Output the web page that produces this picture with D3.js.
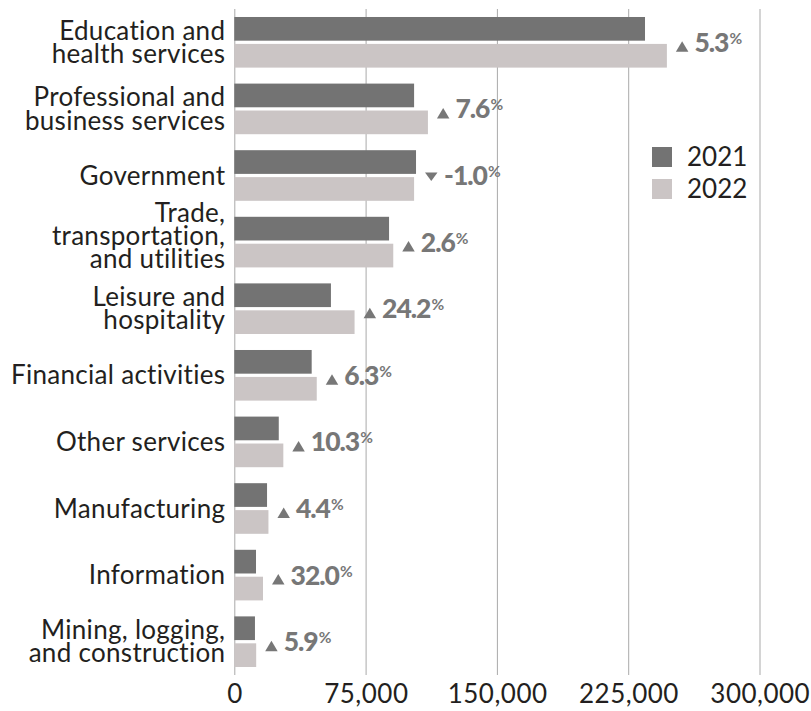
<!DOCTYPE html>
<html>
<head>
<meta charset="utf-8">
<script src="https://cdn.jsdelivr.net/npm/d3@7"></script>
<style>
  html, body { margin: 0; padding: 0; background: #fff; }
  svg { display: block; font-family: Lato, "Open Sans", sans-serif; }
</style>
</head>
<body>
<svg id="chart" width="811" height="711"></svg>
<script>
// ---- data ----
const categories = [
  "Education and\nhealth services",
  "Professional and\nbusiness services",
  "Government",
  "Trade,\ntransportation,\nand utilities",
  "Leisure and\nhospitality",
  "Financial activities",
  "Other services",
  "Manufacturing",
  "Information",
  "Mining, logging,\nand construction"
];
const seriesNames = ["2021", "2022"];
const values2021 = [234600, 102700, 103800, 88400, 55200, 44200, 25400, 18700, 12400, 11800];
const values2022 = [247100, 110600, 102700, 90800, 68700, 47100, 28000, 19500, 16400, 12500];
const pctChange = [5.3, 7.6, -1.0, 2.6, 24.2, 6.3, 10.3, 4.4, 32.0, 5.9];
const xTicks = [0, 75000, 150000, 225000, 300000];

// ---- layout ----
const colors = { "2021": "#737373", "2022": "#cbc5c5" };
const textColor = "#231f20";
const annColor = "#777777";
const plotTop = 9, plotBottom = 675;

const svg = d3.select("#chart");

const x = d3.scaleLinear().domain([0, 300000]).range([234.3, 759.5]);
const y0 = d3.scaleBand().domain(categories).range([plotTop, plotBottom])
  .paddingInner(0.24).paddingOuter(0.12);
const y1 = d3.scaleBand().domain(seriesNames).range([0, y0.bandwidth()]).paddingInner(0.12);

// grid + axis
const axis = d3.axisBottom(x).tickValues(xTicks).tickFormat(d3.format(","))
  .tickSize(-(plotBottom - plotTop)).tickPadding(10);
const gAxis = svg.append("g").attr("transform", `translate(0,${plotBottom})`).call(axis);
gAxis.select(".domain").remove();
gAxis.selectAll(".tick line").attr("stroke", "#a9a9a9").attr("stroke-width", 1);
gAxis.selectAll(".tick text").attr("fill", textColor).attr("font-size", 26)
  .attr("letter-spacing", 0.5).attr("dx", 0.25)
  .attr("font-family", "Lato, sans-serif");

// bars
const rows = categories.map((c, i) => ({ cat: c, v: { "2021": values2021[i], "2022": values2022[i] }, pct: pctChange[i] }));
const groups = svg.append("g").selectAll("g").data(rows).join("g")
  .attr("transform", d => `translate(0,${y0(d.cat)})`);
groups.selectAll("rect").data(d => seriesNames.map(s => ({ s, v: d.v[s] }))).join("rect")
  .attr("x", x(0))
  .attr("y", d => y1(d.s))
  .attr("width", d => x(d.v) - x(0))
  .attr("height", y1.bandwidth())
  .attr("fill", d => colors[d.s]);

// category labels
const lineH = 23.3;
svg.append("g").selectAll("text").data(rows).join("text")
  .attr("text-anchor", "end")
  .attr("font-size", 26)
  .attr("letter-spacing", 0.3)
  .attr("fill", textColor)
  .each(function(d) {
    const lines = d.cat.split("\n");
    const n = lines.length;
    const cy = y0(d.cat) + y0.bandwidth() / 2;
    const first = cy + 9 - (n - 1) * lineH / 2 - (n > 2 ? 6 : 0);
    const t = d3.select(this);
    lines.forEach((ln, k) => {
      t.append("tspan").attr("x", 225.3).attr("y", first + k * lineH).text(ln);
    });
  });

// change annotations
const ann = svg.append("g").selectAll("g").data(rows).join("g")
  .attr("transform", d => {
    const cy = y0(d.cat) + y0.bandwidth() / 2;
    const xe = x(Math.max(d.v["2021"], d.v["2022"])) + 9;
    return `translate(${xe},${cy + 9.5})`;
  });
ann.append("path")
  .attr("d", d => d.pct >= 0 ? "M0,0 L12.5,0 L6.25,-10.5 Z" : "M0,-12.5 L12.5,-12.5 L6.25,-4 Z")
  .attr("fill", annColor);
const at = ann.append("text")
  .attr("x", d => d.pct >= 0 ? 18.5 : 19)
  .attr("y", 0)
  .attr("fill", annColor)
  .attr("font-weight", 900)
  .attr("font-size", 26.5)
  .attr("letter-spacing", -1);
at.append("tspan").text(d => d.pct.toFixed(1));
at.append("tspan").attr("font-size", 15.5).attr("font-weight", 700).attr("dy", -8).attr("dx", 1).text("%");

// legend
const legend = svg.append("g").selectAll("g").data(seriesNames).join("g")
  .attr("transform", (d, i) => `translate(652,${147 + i * 32})`);
legend.append("rect").attr("width", 20).attr("height", 20).attr("fill", d => colors[d]);
legend.append("text").attr("x", 35).attr("y", 19).attr("font-size", 26)
  .attr("fill", textColor).text(d => d);
</script>
</body>
</html>
